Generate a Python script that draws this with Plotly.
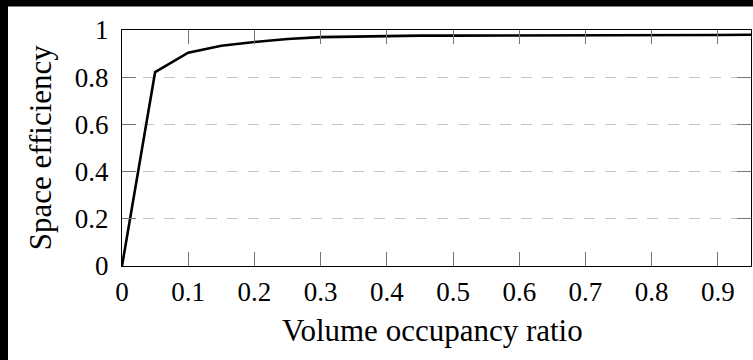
import plotly.graph_objects as go

occupancy = [0, 0.05, 0.1, 0.15, 0.2, 0.25, 0.3, 0.35, 0.4, 0.45, 0.5, 0.55, 0.6,
             0.65, 0.7, 0.75, 0.8, 0.85, 0.9, 0.95]
efficiency = [0, 0.822, 0.904, 0.933, 0.949, 0.962, 0.970, 0.973, 0.975, 0.976,
              0.976, 0.976, 0.976, 0.977, 0.977, 0.977, 0.978, 0.978, 0.979, 0.980]

x_ticks = [0, 0.1, 0.2, 0.3, 0.4, 0.5, 0.6, 0.7, 0.8, 0.9]
x_tick_labels = ["0", "0.1", "0.2", "0.3", "0.4", "0.5", "0.6", "0.7", "0.8", "0.9"]
y_ticks = [0, 0.2, 0.4, 0.6, 0.8, 1]
y_tick_labels = ["0", "0.2", "0.4", "0.6", "0.8", "1"]

W, H = 753, 360
L, R, T, B = 122, 751, 29.5, 266
pw, ph = R - L, B - T

def px(p):
    return (p - L) / pw

def py(q):
    return (B - q) / ph

FONT = "Liberation Serif"

fig = go.Figure()
fig.add_trace(go.Scatter(x=occupancy, y=efficiency, mode="lines",
                         line=dict(color="black", width=2.6), showlegend=False,
                         cliponaxis=True))

fig.update_layout(
    width=W, height=H,
    margin=dict(l=L, r=W - R, t=T, b=H - B, pad=0),
    paper_bgcolor="black",
    plot_bgcolor="white",
    font=dict(family=FONT, size=27, color="black"),
    shapes=[dict(type="rect", xref="paper", yref="paper",
                 x0=px(8), x1=px(760), y0=py(370), y1=py(6),
                 fillcolor="white", line=dict(width=0), layer="below")],
    annotations=[
        dict(text="Volume occupancy ratio", xref="paper", yref="paper",
             x=px(432.5), y=py(331), xanchor="center", yanchor="middle",
             showarrow=False, font=dict(family=FONT, size=31, color="black")),
        dict(text="Space efficiency", xref="paper", yref="paper",
             x=px(40), y=py(147), xanchor="center", yanchor="middle", textangle=-90,
             showarrow=False, font=dict(family=FONT, size=31, color="black")),
    ],
)

fig.update_xaxes(range=[0, 0.95], tickvals=x_ticks, ticktext=x_tick_labels,
                 showgrid=False, zeroline=False, showline=True, linecolor="black",
                 linewidth=1.4, mirror="ticks", ticks="inside", ticklen=14,
                 tickcolor="#777777", tickwidth=1, ticklabelstandoff=1,
                 tickfont=dict(family=FONT, size=27, color="black"))
fig.update_yaxes(range=[0, 1], tickvals=y_ticks, ticktext=y_tick_labels,
                 showgrid=True, gridcolor="#c4c4c4", gridwidth=1, griddash="11px,10px",
                 zeroline=False, showline=True, linecolor="black",
                 linewidth=1.4, mirror="ticks", ticks="inside", ticklen=14,
                 tickcolor="#777777", tickwidth=1, ticklabelstandoff=7,
                 tickfont=dict(family=FONT, size=27, color="black"))

page_css = ("document.body.style.margin='0';"
            "document.body.style.background='black';"
            "document.documentElement.style.overflow='hidden';")

fig.write_html("out.html", post_script=page_css,
               config={"displayModeBar": False, "responsive": False})
